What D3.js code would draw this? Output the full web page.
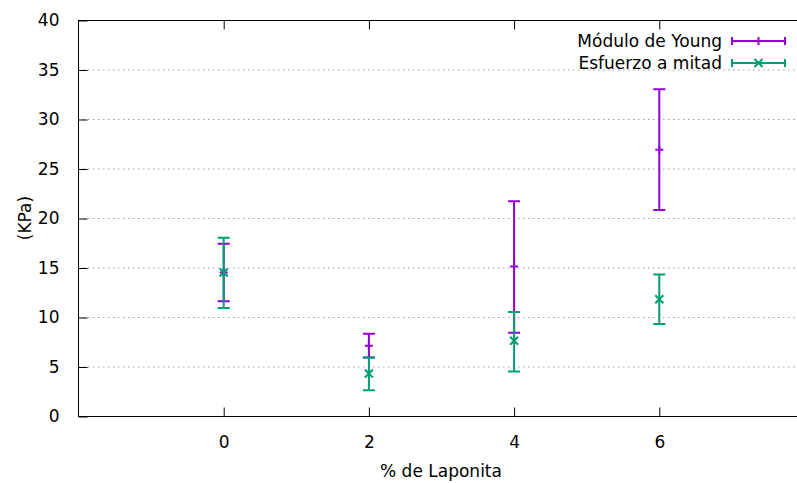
<!DOCTYPE html>
<html>
<head>
<meta charset="utf-8">
<script src="https://cdn.jsdelivr.net/npm/d3@7/dist/d3.min.js"></script>
<style>
  html, body { margin: 0; padding: 0; background: #fff; }
  svg { display: block; }
  text { font-family: "DejaVu Sans", sans-serif; fill: #000; }
</style>
</head>
<body>
<svg id="chart" width="797" height="483"></svg>
<script>
// Laponite content (%) on the x axis
const laponita = [0, 2, 4, 6];

// Young's modulus (KPa): value with lower / upper error limits
const moduloYoung = [14.5, 7.1, 15.1, 26.9];
const moduloLow   = [11.6, 5.9, 8.4, 20.8];
const moduloHigh  = [17.4, 8.3, 21.7, 33.0];

// Stress at half deformation (KPa): value with lower / upper error limits
const esfuerzo     = [14.5, 4.3, 7.6, 11.8];
const esfuerzoLow  = [10.9, 2.6, 4.5, 9.3];
const esfuerzoHigh = [18.0, 5.9, 10.5, 14.3];

const xTicks = [0, 2, 4, 6];
const yTicks = [0, 5, 10, 15, 20, 25, 30, 35, 40];

const seriesNames = ["Módulo de Young", "Esfuerzo a mitad"];
const seriesColors = ["#9400d3", "#009e73"];

const svg = d3.select("#chart");
const margin = { left: 78, top: 20, right: 804, bottom: 416 };

const x = d3.scaleLinear().domain([-2, 8]).range([margin.left, margin.right]);
const y = d3.scaleLinear().domain([0, 40]).range([margin.bottom, margin.top]);

// horizontal dotted grid
svg.append("g")
  .selectAll("line")
  .data(yTicks.filter(d => d > 0 && d < 40))
  .join("line")
  .attr("x1", x(-2)).attr("x2", x(8))
  .attr("y1", d => y(d) + 0.5).attr("y2", d => y(d) + 0.5)
  .attr("stroke", "#a0a0a0")
  .attr("stroke-width", 1)
  .attr("stroke-dasharray", "1.5,3.5");

// y axis: ticks pointing inward
const yAxis = d3.axisLeft(y).tickValues(yTicks).tickSize(-9).tickPadding(19);
const gy = svg.append("g").attr("transform", `translate(${margin.left + 0.5},0.5)`).call(yAxis);
gy.select(".domain").remove();
gy.selectAll(".tick line").attr("stroke", "#000");
gy.selectAll(".tick text").attr("font-size", 17).attr("font-family", "DejaVu Sans");

// x axis: ticks pointing inward
const xAxis = d3.axisBottom(x).tickValues(xTicks).tickSize(-9).tickPadding(19);
const gx = svg.append("g").attr("transform", `translate(0.5,${margin.bottom + 0.5})`).call(xAxis);
gx.select(".domain").remove();
gx.selectAll(".tick line").attr("stroke", "#000");
gx.selectAll(".tick text").attr("font-size", 17).attr("font-family", "DejaVu Sans");

// mirrored ticks on the top border
const xTop = d3.axisTop(x).tickValues(xTicks).tickSize(-9).tickFormat("");
const gxt = svg.append("g").attr("transform", `translate(0.5,${margin.top + 0.5})`).call(xTop);
gxt.select(".domain").remove();
gxt.selectAll(".tick line").attr("stroke", "#000");

// plot border
svg.append("rect")
  .attr("x", margin.left + 0.5).attr("y", margin.top + 0.5)
  .attr("width", x(8) - x(-2)).attr("height", y(0) - y(40))
  .attr("fill", "none").attr("stroke", "#000").attr("stroke-width", 1);

// axis titles
svg.append("text")
  .attr("transform", `translate(31,${y(20)}) rotate(-90)`)
  .attr("text-anchor", "middle")
  .attr("font-size", 17)
  .text("(KPa)");

svg.append("text")
  .attr("x", x(3)).attr("y", 477)
  .attr("text-anchor", "middle")
  .attr("font-size", 17)
  .text("% de Laponita");

const series = [
  { name: seriesNames[0], color: seriesColors[0], v: moduloYoung, lo: moduloLow, hi: moduloHigh, mark: "plus" },
  { name: seriesNames[1], color: seriesColors[1], v: esfuerzo, lo: esfuerzoLow, hi: esfuerzoHigh, mark: "cross" }
];

const cap = 6, ms = 4;

function drawMark(g, cx, cy, kind, color) {
  if (kind === "plus") {
    g.append("path")
      .attr("d", `M${cx - ms},${cy}H${cx + ms}M${cx},${cy - ms}V${cy + ms}`)
      .attr("stroke", color).attr("stroke-width", 2).attr("fill", "none");
  } else {
    g.append("path")
      .attr("d", `M${cx - ms},${cy - ms}L${cx + ms},${cy + ms}M${cx - ms},${cy + ms}L${cx + ms},${cy - ms}`)
      .attr("stroke", color).attr("stroke-width", 2).attr("fill", "none");
  }
}

series.forEach(s => {
  const g = svg.append("g");
  laponita.forEach((p, i) => {
    const cx = x(p) + 0.5;
    const yl = y(s.lo[i]), yh = y(s.hi[i]);
    g.append("path")
      .attr("d", `M${cx},${yl}V${yh}M${cx - cap},${yl}H${cx + cap}M${cx - cap},${yh}H${cx + cap}`)
      .attr("stroke", s.color).attr("stroke-width", 2).attr("fill", "none");
    drawMark(g, cx, y(s.v[i]), s.mark, s.color);
  });
});

// legend
series.forEach((s, i) => {
  const ly = 41 + i * 22;
  const g = svg.append("g");
  g.append("text")
    .attr("x", 722).attr("y", ly + 6)
    .attr("text-anchor", "end")
    .attr("font-size", 17)
    .text(s.name);
  g.append("path")
    .attr("d", `M732,${ly}H785M732,${ly - 4}V${ly + 4}M785,${ly - 4}V${ly + 4}`)
    .attr("stroke", s.color).attr("stroke-width", 2).attr("fill", "none");
  drawMark(g, 758.5, ly, s.mark, s.color);
});
</script>
</body>
</html>
